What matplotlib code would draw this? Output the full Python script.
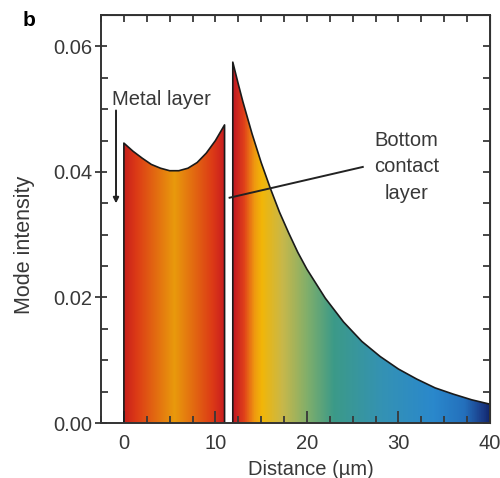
import numpy as np
import matplotlib
matplotlib.use("Agg")
import matplotlib.pyplot as plt
from matplotlib.colors import LinearSegmentedColormap
from matplotlib.patches import Polygon

plt.rcParams['font.family'] = ['Liberation Sans', 'DejaVu Sans']

# metal layer mode profile
metal_x = [0, 1, 2, 3, 4, 5, 6, 7, 8, 9, 10, 11]
metal_y = [0.0446, 0.0433, 0.0422, 0.0412, 0.0406, 0.0402, 0.0402, 0.0406,
           0.0415, 0.0430, 0.0450, 0.0475]

# bottom contact / substrate decay
contact_x = [11.9, 12.5, 13, 14, 15, 16, 17, 18, 19, 20, 22, 24, 26, 28,
             30, 32, 34, 36, 38, 40]
contact_y = [0.0575, 0.0540, 0.0512, 0.0461, 0.0415, 0.0374, 0.0336, 0.0303,
             0.0272, 0.0245, 0.0199, 0.0161, 0.0130, 0.0106, 0.0086, 0.0070,
             0.0056, 0.0046, 0.0037, 0.0030]

# colour stops (fraction along each region, colour)
metal_stops = [(0.0, '#c8201c'), (0.12, '#dc3a16'), (0.5, '#e99a0c'),
               (0.88, '#dc3a16'), (1.0, '#c81c20')]
contact_stops = [(0.0, '#c21a22'), (0.04, '#e0401a'), (0.08, '#ef9810'),
                 (0.11, '#f2b608'), (0.19, '#c8b84a'), (0.29, '#7eae6c'),
                 (0.39, '#3c9a88'), (0.58, '#3492b4'), (0.78, '#2a88cc'),
                 (0.9, '#2470bc'), (0.97, '#1a3c88'), (1.0, '#102468')]

fig = plt.figure(figsize=(5.0, 4.78), dpi=100)
ax = fig.add_axes([0.202, 0.115, 0.778, 0.8535])

def gradient_region(xs, ys, stops):
    cmap = LinearSegmentedColormap.from_list('g', stops)
    verts = [(xs[0], 0)] + list(zip(xs, ys)) + [(xs[-1], 0)]
    poly = Polygon(verts, closed=True, facecolor='none', edgecolor='none')
    ax.add_patch(poly)
    im = ax.imshow(np.linspace(0, 1, 400)[None, :], cmap=cmap, aspect='auto',
                   extent=(xs[0], xs[-1], 0, max(ys)), origin='lower',
                   interpolation='bilinear', zorder=1)
    im.set_clip_path(poly)
    # outline: left edge, top curve, right edge
    ox = [xs[0]] + list(xs) + [xs[-1]]
    oy = [0] + list(ys) + [0]
    ax.plot(ox, oy, color='#1a1a1a', lw=1.2, zorder=2)

gradient_region(metal_x, metal_y, metal_stops)
gradient_region(contact_x, contact_y, contact_stops)

ax.set_xlim(-2.2, 40)
ax.set_ylim(0, 0.065)
ax.set_xticks([0, 10, 20, 30, 40])
ax.set_xticks(np.arange(-2.5, 40.1, 2.5), minor=True)
ax.set_yticks([0.0, 0.02, 0.04, 0.06])
ax.set_yticks(np.arange(0, 0.0651, 0.005), minor=True)
ax.set_yticklabels(['0.00', '0.02', '0.04', '0.06'])

tc = '#383838'
for s in ax.spines.values():
    s.set_linewidth(1.4)
    s.set_color('#333333')
    s.set_zorder(5)
ax.tick_params(axis='x', which='major', direction='in', length=9, width=1.3,
               labelsize=14.5, pad=8, colors=tc)
ax.tick_params(axis='x', which='minor', direction='in', length=5, width=1.3,
               colors=tc)
ax.tick_params(axis='y', which='major', direction='inout', length=9, width=1.3,
               labelsize=14.5, pad=2, colors=tc)
ax.tick_params(axis='y', which='minor', direction='in', length=5, width=1.3,
               colors=tc)
for t in ax.get_xticklines() + ax.get_yticklines():
    t.set_zorder(6)

top = ax.secondary_xaxis('top')
top.set_xticks(np.arange(-2.5, 40.1, 2.5))
top.tick_params(direction='in', length=5, width=1.3, labeltop=False, colors=tc)
right = ax.secondary_yaxis('right')
right.set_yticks(np.arange(0, 0.0651, 0.005))
right.tick_params(direction='in', length=5, width=1.3, labelright=False, colors=tc)

ax.set_xlabel('Distance (µm)', fontsize=14.5, color=tc)
ax.xaxis.set_label_coords(0.54, -0.127)
ax.xaxis.label.set_va('baseline')
ax.set_ylabel('Mode intensity', fontsize=15.5, color=tc)
ax.yaxis.set_label_coords(-0.170, 0.436)

ax.text(-1.3, 0.0515, 'Metal layer', fontsize=14.5, color=tc, va='center', ha='left')
ax.annotate('', xy=(-0.86, 0.0350), xytext=(-0.86, 0.0498),
            arrowprops=dict(arrowstyle='-|>', color='#222222', lw=1.4,
                            mutation_scale=8, shrinkA=0, shrinkB=0), zorder=4)

ax.text(30.9, 0.0408, 'Bottom\ncontact\nlayer', fontsize=14.5, color=tc,
        ha='center', va='center', linespacing=1.5)
ax.plot([26.1, 11.55], [0.0408, 0.0359], color='#222222', lw=1.4, zorder=4)

fig.text(0.045, 0.958, 'b', fontsize=15, fontweight='bold', ha='left', va='center')

fig.savefig('out.png', dpi=100)
